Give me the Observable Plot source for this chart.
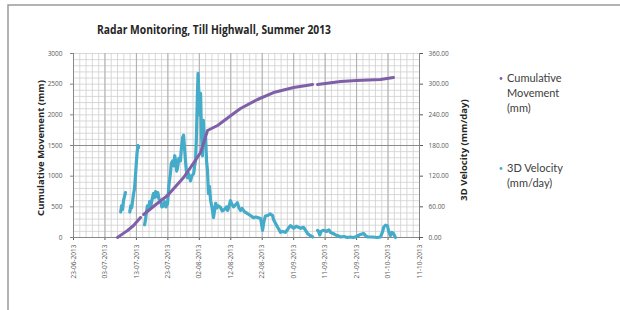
<!DOCTYPE html>
<html><head><meta charset="utf-8">
<script src="https://cdn.jsdelivr.net/npm/d3@7"></script>
<script src="https://cdn.jsdelivr.net/npm/@observablehq/plot@0.6"></script>
<style>
body{margin:0;background:#fff;}
#chart{position:relative;width:620px;height:310px;overflow:hidden;}
</style>
</head><body><div id="chart"></div>
<script>
// ---- data ----
const startDate = "2013-06-23";
const endDate = "2013-10-11";
const xTickDays = [0,10,20,30,40,50,60,70,80,90,100,110];
const yTicks = [0,500,1000,1500,2000,2500,3000];
const yRightLabels = ["0.00","60.00","120.00","180.00","240.00","300.00","360.00"];
const velMax = 360, moveMax = 3000;

// Cumulative Movement (mm): days since 23-06-2013, value (null = gap)
const moveDay = [14.0,15.5,17.2,19.1,21.3,21.8,22.3,26.0,29.9,35.0,38.0,40.4,41.5,42.6,45.8,50.9,53.1,58.5,63.6,70.0,76.0,76.8,77.6,84.9,90.0,97.6,101.7];
const moveMm  = [0,55,114,196,326,null,375,530,685,978,1200,1386,1560,1745,1826,2022,2103,2250,2364,2446,2495,null,2495,2544,2560,2576,2609];

// 3D Velocity (mm/day)
const velDay = [
 15.0,15.3,15.6,15.9,16.2,16.5, 17.2,
 17.9,18.2,18.5,19.1,19.4,19.8,20.2,20.5,20.7, 21.6,
 22.6,22.9,23.2,23.5,23.9,24.2,24.6,25.0,25.4,25.7,26.1,26.5,26.8,27.2,27.7,28.1,28.6,29.0,29.4,29.9,
 30.3,30.8,31.1,31.5,31.9,32.2,32.5,32.8,33.1,33.5,34.0,34.3,34.7,35.0,35.3,35.6,35.9,36.2,36.6,37.2,37.6,
 38.2,38.5,38.8,39.1,39.4,39.6,39.8,40.1,40.4,40.7,41.0,41.3,41.6,42.0,42.3,42.6,42.9,43.2,43.6,44.0,44.5,
 44.9,45.2,45.6,46.0,46.7,47.3,48.0,48.6,49.0,49.5,49.9,50.3,50.9,51.5,52.1,52.6,53.1,53.6,54.4,55.3,56.0,
 57.2,58.0,58.5,59.0,59.5,60.1,60.5,61.0,61.7,62.5,63.3,63.6,64.2,64.9,65.4,65.8,66.5,67.3,68.0,68.5,69.0,
 69.6,70.0,70.8,71.5,72.3,73.1,73.8,74.4,75.2,76.0, 76.8,
 77.6,77.9,78.3,78.7,79.5,80.5,81.2,81.7,82.5,83.3,83.9,84.9,86.0,87.0,88.0,89.0,90.0,91.2,92.2,92.8,93.5,
 95.0,96.5,97.6,98.3,98.6,99.2,99.8,100.2,100.8,101.2,101.7,102.2,102.4
];
const velMmDay = [
 50,62,55,72,80,88, null,
 50,62,58,86,95,130,165,180,176, null,
 25,35,50,62,55,70,62,75,86,78,90,80,88,75,72,60,62,70,60,66,
 100,125,145,150,140,160,148,130,137,155,150,175,196,200,175,150,130,117,125,111,120,
 125,140,150,200,282,321,290,240,282,200,160,229,180,196,150,131,86,100,72,60,39,
 55,67,58,62,59,52,55,60,53,62,72,66,60,64,68,58,53,57,50,47,44,
 39,40,39,38,37,14,30,42,43,46,43,35,28,20,15,10,12,10,15,20,23,
 20,18,22,20,18,20,14,8,4,1, null,
 14,12,5,12,14,12,15,10,8,5,4,1,2,0,1,0,2,6,8,4,1,
 1,0,1,12,20,24,23,12,4,10,8,2,0
];

// ---- build ----
const t0 = new Date(startDate + "T00:00:00Z");
const toDate = d => new Date(t0.getTime() + d * 86400000);
const moveData = moveDay.map((d,i) => ({date: toDate(d), y: moveMm[i]}));
const velData = velDay.map((d,i) => ({date: toDate(d), y: velMmDay[i] == null ? null : velMmDay[i] * moveMax / velMax}));
const fmt = d3.utcFormat("%d-%m-%Y");
const minorX = d3.range(0, 111, 2).map(toDate);
const majorX = xTickDays.map(toDate);
const minorY = d3.range(0, 3001, 100);

const purple = "#7f60a8", cyan = "#44abc8";
const titleFont = "'Open Sans', sans-serif";

const svg = Plot.plot({
  width: 620, height: 310,
  marginLeft: 73, marginRight: 201, marginTop: 53, marginBottom: 73,
  style: {fontFamily: "'Open Sans', sans-serif", background: "transparent", color: "#595959"},
  x: {type: "utc", domain: [new Date(startDate + "T00:00:00Z"), new Date(endDate + "T00:00:00Z")]},
  y: {domain: [0, moveMax]},
  marks: [
    Plot.ruleX(minorX, {stroke: "#cfcfcf", strokeWidth: 0.8}),
    Plot.ruleY(minorY, {stroke: "#cfcfcf", strokeWidth: 0.8}),
    Plot.ruleX(majorX, {stroke: "#a8a8a8", strokeWidth: 0.9}),
    Plot.ruleY([1500], {stroke: "#8c8c8c", strokeWidth: 1}),
    Plot.axisY({ticks: yTicks, tickSize: 3, fontSize: 6.5, tickPadding: 8, label: null, stroke: "#888",
      tickFormat: d => String(d)}),
    Plot.axisY({anchor: "right", ticks: yTicks, tickSize: 3, fontSize: 6.5, tickPadding: 6, label: null,
      tickFormat: d => yRightLabels[yTicks.indexOf(d)]}),
    Plot.axisX({ticks: majorX, tickRotate: -90, tickSize: 3, fontSize: 6.5, tickPadding: 4, label: null,
      tickFormat: fmt}),
    Plot.ruleY([0], {stroke: "#888"}),
    Plot.ruleX([toDate(0)], {stroke: "#888"}),
    Plot.ruleX([toDate(110)], {stroke: "#888"}),
    Plot.line(velData, {x: "date", y: "y", stroke: cyan, strokeWidth: 3.2, curve: "linear"}),
    Plot.line(moveData, {x: "date", y: "y", stroke: purple, strokeWidth: 3, curve: "linear"})
  ]
});

const s = d3.select(svg);
// outer frame (top and left edges visible)
s.append("path").attr("d", "M8,310V5H620").attr("fill", "none").attr("stroke", "#9a9a9a").attr("stroke-width", 1.5);
s.append("text").attr("x", 214).attr("y", 34).attr("text-anchor", "middle")
  .attr("font-family", titleFont).attr("font-weight", "700").attr("font-size", 11.5).attr("fill", "#262626")
  .attr("textLength", 234).attr("lengthAdjust", "spacingAndGlyphs")
  .text("Radar Monitoring, Till Highwall, Summer 2013");
s.append("text").attr("transform", "translate(44,148) rotate(-90)").attr("text-anchor", "middle")
  .attr("font-family", titleFont).attr("font-weight", "700").attr("font-size", 9.5).attr("fill", "#262626")
  .text("Cumulative Movement (mm)");
s.append("text").attr("transform", "translate(467,150) rotate(-90)").attr("text-anchor", "middle")
  .attr("font-family", titleFont).attr("font-weight", "700").attr("font-size", 9.5).attr("fill", "#262626")
  .text("3D Velocity (mm/day)");
// legend
const legend = [
  {color: purple, lines: ["Cumulative", "Movement", "(mm)"], y: 82},
  {color: cyan, lines: ["3D Velocity", "(mm/day)"], y: 172}
];
legend.forEach(L => {
  s.append("circle").attr("cx", 501).attr("cy", L.y - 3.5).attr("r", 1.4).attr("fill", L.color);
  L.lines.forEach((t, i) => s.append("text").attr("x", 507).attr("y", L.y + i * 15)
    .attr("text-anchor", "start")
    .attr("font-family", "Lato, sans-serif").attr("font-size", 11).attr("fill", "#404040").text(t));
});
document.getElementById("chart").appendChild(svg);
</script>
</body></html>
